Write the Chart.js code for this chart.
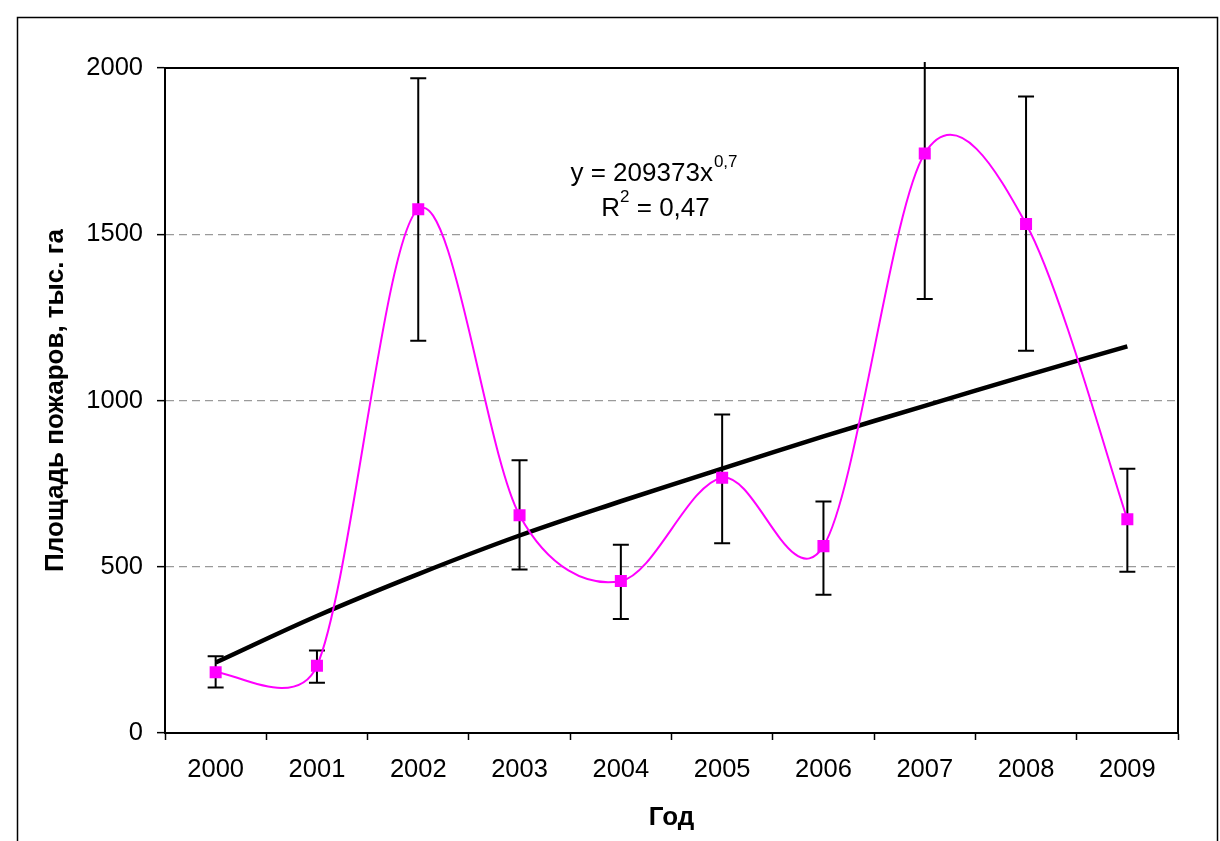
<!DOCTYPE html>
<html>
<head>
<meta charset="utf-8">
<script src="https://cdn.jsdelivr.net/npm/chart.js@4.4.0/dist/chart.umd.min.js"></script>
<style>
  html, body { margin: 0; padding: 0; background: #fff; overflow: hidden; }
  #wrap { position: relative; width: 1220px; height: 841px; }
</style>
</head>
<body>
<div id="wrap"><canvas id="c" width="1220" height="841"></canvas></div>
<script>
// Годы наблюдений
const years = ['2000', '2001', '2002', '2003', '2004', '2005', '2006', '2007', '2008', '2009'];
// Площадь пожаров, тыс. га
const burnedArea = [183, 202, 1575, 655, 457, 768, 562, 1743, 1531, 643];
// Границы погрешности
const errLow  = [137, 151, 1180, 492, 343, 571, 416, 1305, 1150, 485];
const errHigh = [231, 248, 1969, 820, 566, 958, 696, 2180, 1914, 795];
// Степенной тренд
const trend = [212, 352, 478, 594, 697, 795, 892, 984, 1075, 1163];
// Подписи оси Y
const yTicks = [0, 500, 1000, 1500, 2000];
// Уравнение тренда
const eqMain = 'y = 209373x';
const eqPow = '0,7';
const r2Main = 'R';
const r2Pow = '2';
const r2Rest = ' = 0,47';

const FONT = '"Liberation Sans", Arial, sans-serif';

// Сглаживание линии: касательная (P[i+1] - P[i-1]) / 6,
// длина управляющего плеча не больше половины соседнего отрезка
const smoothLine = {
  id: 'smoothLine',
  beforeDatasetDraw(chart, args) {
    if (args.index !== 0) return;
    const meta = args.meta;
    const pts = meta.data;
    const n = pts.length;
    for (let i = 0; i < n; i++) {
      const p = pts[i];
      const prev = pts[Math.max(i - 1, 0)];
      const next = pts[Math.min(i + 1, n - 1)];
      const tx = (next.x - prev.x) / 6, ty = (next.y - prev.y) / 6;
      const tl = Math.hypot(tx, ty) || 1;
      const dPrev = Math.hypot(p.x - prev.x, p.y - prev.y);
      const dNext = Math.hypot(next.x - p.x, next.y - p.y);
      const kIn = Math.min(1, (dPrev / 2) / tl);
      const kOut = Math.min(1, (dNext / 2) / tl);
      p.cp1x = p.x - tx * kIn;
      p.cp1y = p.y - ty * kIn;
      p.cp2x = p.x + tx * kOut;
      p.cp2y = p.y + ty * kOut;
    }
    meta.dataset._pointsUpdated = true;
  }
};

const errorBars = {
  id: 'errorBars',
  beforeDatasetsDraw(chart) {
    const { ctx, chartArea } = chart;
    const xs = chart.scales.x, ys = chart.scales.y;
    ctx.save();
    ctx.strokeStyle = '#000';
    ctx.lineWidth = 2;
    for (let i = 0; i < years.length; i++) {
      const x = xs.getPixelForValue(i);
      const yLo = ys.getPixelForValue(errLow[i]);
      let yHi = ys.getPixelForValue(errHigh[i]);
      const clipped = yHi < chartArea.top - 6;
      if (clipped) yHi = chartArea.top - 6;
      ctx.beginPath();
      ctx.moveTo(x, yLo);
      ctx.lineTo(x, yHi);
      ctx.moveTo(x - 8, yLo);
      ctx.lineTo(x + 8, yLo);
      if (!clipped) {
        ctx.moveTo(x - 8, yHi);
        ctx.lineTo(x + 8, yHi);
      }
      ctx.stroke();
    }
    ctx.restore();
  }
};

const frame = {
  id: 'frame',
  afterDraw(chart) {
    const { ctx, chartArea } = chart;
    ctx.save();
    ctx.strokeStyle = '#000';
    // outer border
    ctx.lineWidth = 1.5;
    ctx.strokeRect(17.5, 17.5, 1200, 900);
    // plot area border (top and right)
    ctx.lineWidth = 2;
    ctx.beginPath();
    ctx.moveTo(chartArea.left, chartArea.top);
    ctx.lineTo(chartArea.right, chartArea.top);
    ctx.lineTo(chartArea.right, chartArea.bottom);
    ctx.stroke();

    // trend equation
    ctx.fillStyle = '#000';
    ctx.textBaseline = 'middle';
    ctx.textAlign = 'left';
    const big = '26px ' + FONT, small = '17px ' + FONT;
    ctx.font = big;
    const w1 = ctx.measureText(eqMain).width;
    ctx.font = small;
    const w2 = ctx.measureText(eqPow).width;
    let x0 = 653.5 - (w1 + w2) / 2;
    ctx.font = big;
    ctx.fillText(eqMain, x0, 174);
    ctx.font = small;
    ctx.fillText(eqPow, x0 + w1 + 1, 162);

    ctx.font = big;
    const a = ctx.measureText(r2Main).width;
    const c = ctx.measureText(r2Rest).width;
    ctx.font = small;
    const b = ctx.measureText(r2Pow).width;
    x0 = 655.5 - (a + b + c) / 2;
    ctx.font = big;
    ctx.fillText(r2Main, x0, 209);
    ctx.font = small;
    ctx.fillText(r2Pow, x0 + a, 197);
    ctx.font = big;
    ctx.fillText(r2Rest, x0 + a + b, 209);
    ctx.restore();
  }
};

new Chart(document.getElementById('c'), {
  type: 'line',
  data: {
    labels: years,
    datasets: [
      {
        label: 'Площадь пожаров',
        data: burnedArea,
        borderColor: '#FF00FF',
        backgroundColor: '#FF00FF',
        borderWidth: 2,
        tension: 0.4,
        pointStyle: 'rect',
        pointRadius: 8.5,
        pointBorderWidth: 0,
        pointBackgroundColor: '#FF00FF',
        order: 1
      },
      {
        label: 'Тренд',
        data: trend,
        borderColor: '#000',
        borderWidth: 4.5,
        tension: 0.4,
        pointRadius: 0,
        order: 2
      }
    ]
  },
  options: {
    responsive: false,
    animation: false,
    devicePixelRatio: 1,
    layout: { padding: { top: 68, right: 42, left: 0, bottom: 0 } },
    plugins: { legend: { display: false }, tooltip: { enabled: false } },
    scales: {
      x: {
        type: 'category',
        offset: true,
        grid: { offset: true, drawOnChartArea: false, tickLength: 7, tickColor: '#000', tickWidth: 1.5 },
        border: { color: '#000', width: 2 },
        ticks: { color: '#000', font: { size: 25.5, family: FONT }, padding: 15, maxRotation: 0, autoSkip: false },
        title: { display: true, text: 'Год', color: '#000', font: { size: 26, weight: 'bold', family: FONT }, padding: { top: 0, bottom: 8 } },
        afterFit(s) { s.height = 108; }
      },
      y: {
        min: 0,
        max: 2000,
        afterBuildTicks(s) { s.ticks = yTicks.map(v => ({ value: v })); },
        grid: {
          color: c => (c.tick && (c.tick.value === 0 || c.tick.value === 2000)) ? 'rgba(0,0,0,0)' : '#9a9a9a',
          lineWidth: 1.3,
          tickLength: 8,
          tickColor: '#000',
          tickWidth: 1.5
        },
        border: { color: '#000', width: 2, dash: [8, 5] },
        ticks: { color: '#000', font: { size: 25.5, family: FONT }, padding: 14, callback: v => String(v) },
        title: { display: true, text: 'Площадь пожаров, тыс. га', color: '#000', font: { size: 26, weight: 'bold', family: FONT }, padding: { top: 40, bottom: 0 } },
        afterFit(s) { s.width = 165; }
      }
    }
  },
  plugins: [smoothLine, errorBars, frame]
});
</script>
</body>
</html>
